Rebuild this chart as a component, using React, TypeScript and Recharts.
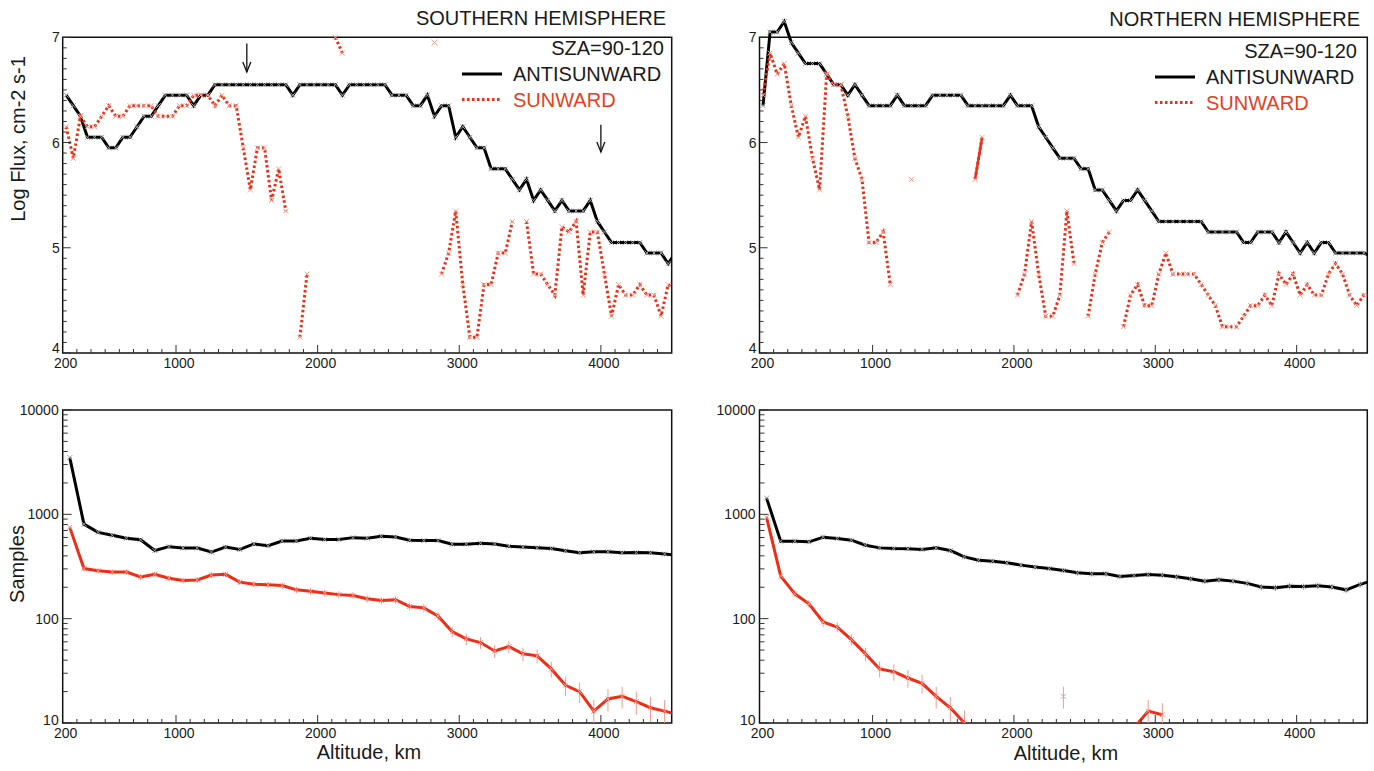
import React from "react";
import { ComposedChart, Line, XAxis, YAxis, ReferenceArea, ReferenceLine, ErrorBar } from "recharts";

// altitude bin centres, km
const FLUX_ALT = Array.from({ length: 87 }, (_, i) => 225 + 50 * i);
const COUNT_ALT = Array.from({ length: 44 }, (_, i) => 250 + 100 * i);

const ALT_MAX = 4500;
const ALT_LABELS = [200, 1000, 2000, 3000, 4000];
const FLUX_LABELS = [4, 5, 6, 7];
const COUNT_LABELS = [10, 100, 1000, 10000];

// log10 flux, cm-2 s-1 (null = empty bin)
const SH_FLUX_ANTI = [
  6.45, 6.35, 6.25, 6.05, 6.05, 6.05, 5.95, 5.95, 6.05, 6.05,
  6.15, 6.25, 6.25, 6.35, 6.45, 6.45, 6.45, 6.45, 6.35, 6.45,
  6.45, 6.55, 6.55, 6.55, 6.55, 6.55, 6.55, 6.55, 6.55, 6.55,
  6.55, 6.55, 6.45, 6.55, 6.55, 6.55, 6.55, 6.55, 6.55, 6.45,
  6.55, 6.55, 6.55, 6.55, 6.55, 6.55, 6.45, 6.45, 6.45, 6.35,
  6.35, 6.45, 6.25, 6.35, 6.35, 6.05, 6.15, 6.05, 5.95, 5.95,
  5.75, 5.75, 5.75, 5.65, 5.55, 5.65, 5.45, 5.55, 5.45, 5.35,
  5.45, 5.35, 5.35, 5.35, 5.45, 5.25, 5.15, 5.05, 5.05, 5.05,
  5.05, 5.05, 4.95, 4.95, 4.95, 4.85, 4.95,
];
const SH_FLUX_SUN = [
  6.15, 5.85, 6.25, 6.15, 6.15, 6.25, 6.35, 6.25, 6.25, 6.35,
  6.35, 6.35, 6.35, 6.25, 6.25, 6.25, 6.35, 6.35, 6.45, 6.45,
  6.45, 6.35, 6.45, 6.35, 6.35, 5.95, 5.55, 5.95, 5.95, 5.45,
  5.75, 5.35, null, 4.15, 4.75, null, null, null, 7.0, 6.85,
  null, null, null, null, null, null, null, null, null, null,
  null, null, null, 4.75, 4.95, 5.35, 4.65, 4.15, 4.15, 4.65,
  4.65, 4.95, 4.95, 5.25, null, 5.25, 4.75, 4.75, 4.65, 4.55,
  5.2, 5.15, 5.25, 4.55, 5.15, 5.15, 4.75, 4.35, 4.65, 4.55,
  4.55, 4.65, 4.55, 4.55, 4.35, 4.65, 4.6,
];
// lone sunward points drawn as markers only
const SH_SUN_LONE: [number, number][] = [[2825, 6.95]];

const NH_FLUX_ANTI = [
  6.35, 7.05, 7.05, 7.15, 6.95, 6.85, 6.75, 6.75, 6.75, 6.65,
  6.55, 6.55, 6.45, 6.55, 6.45, 6.35, 6.35, 6.35, 6.35, 6.45,
  6.35, 6.35, 6.35, 6.35, 6.45, 6.45, 6.45, 6.45, 6.45, 6.35,
  6.35, 6.35, 6.35, 6.35, 6.35, 6.45, 6.35, 6.35, 6.35, 6.15,
  6.05, 5.95, 5.85, 5.85, 5.85, 5.75, 5.75, 5.55, 5.55, 5.45,
  5.35, 5.45, 5.45, 5.55, 5.45, 5.35, 5.25, 5.25, 5.25, 5.25,
  5.25, 5.25, 5.25, 5.15, 5.15, 5.15, 5.15, 5.15, 5.05, 5.05,
  5.15, 5.15, 5.15, 5.05, 5.15, 5.05, 4.95, 5.05, 4.95, 5.05,
  5.05, 4.95, 4.95, 4.95, 4.95, 4.95, 4.92,
];
const NH_FLUX_SUN = [
  6.45, 6.85, 6.65, 6.75, 6.35, 6.05, 6.25, 5.85, 5.55, 6.65,
  6.55, 6.55, 6.25, 5.85, 5.65, 5.05, 5.05, 5.15, 4.65, null,
  null, 5.65, null, null, null, null, null, null, null, null,
  5.65, 6.05, null, null, null, null, 4.55, 4.75, 5.25, 4.75,
  4.35, 4.35, 4.55, 5.35, 4.85, null, 4.35, 4.75, 5.05, 5.15,
  null, 4.25, 4.55, 4.65, 4.45, 4.45, 4.75, 4.95, 4.75, 4.75,
  4.75, 4.75, 4.65, 4.55, 4.45, 4.25, 4.25, 4.25, 4.35, 4.45,
  4.45, 4.55, 4.45, 4.75, 4.65, 4.75, 4.55, 4.65, 4.55, 4.55,
  4.75, 4.85, 4.75, 4.55, 4.45, 4.55, 4.55,
];
// sunward bins joined by a solid segment
const NH_SUN_SOLID = [1725, 1775];

// sample counts per 100 km bin
const SH_CNT_ANTI = [
  3500, 805, 672, 630, 590, 570, 450, 490, 475, 475,
  435, 485, 460, 520, 500, 555, 555, 590, 573, 573,
  598, 590, 617, 605, 565, 560, 560, 518, 518, 528,
  520, 495, 485, 478, 470, 447, 428, 437, 437, 428,
  430, 428, 417, 405,
];
const SH_CNT_SUN = [
  750, 302, 288, 280, 280, 251, 266, 244, 232, 235,
  262, 266, 224, 214, 211, 208, 189, 183, 176, 170,
  167, 155, 149, 152, 131, 127, 106, 75, 64, 59,
  49, 54, 46, 44, 33, 23, 20, 13, 17, 18,
  16, 14, 13, 12,
];
const NH_CNT_ANTI = [
  1430, 552, 552, 545, 603, 586, 565, 506, 477, 470,
  467, 461, 477, 450, 391, 363, 355, 343, 326, 312,
  302, 290, 275, 269, 269, 254, 259, 265, 261, 252,
  241, 229, 236, 229, 218, 201, 198, 205, 203, 207,
  201, 189, 213, 235,
];
const NH_CNT_SUN = [
  936, 256, 173, 139, 93, 83, 63, 46, 33, 31,
  27, 24, 18, 14, 10, null, null, null, null, null,
  null, 18, null, null, null, null, 9, 13, 12, null,
  null, null, null, null, null, null, null, null, null, null,
  null, null, null, null,
];

// arrows marking altitudes in the southern panel
const SH_ARROWS = [
  { km: 1500, from: 6.94, to: 6.67 },
  { km: 4000, from: 6.17, to: 5.91 },
];

const ALT_TICKS = Array.from({ length: 43 }, (_, i) => 200 + 100 * i);
const FLUX_TICKS = Array.from({ length: 31 }, (_, i) => Math.round(40 + i) / 10);
const COUNT_TICKS = [10, 100, 1000]
  .flatMap((d) => [1, 2, 3, 4, 5, 6, 7, 8, 9].map((k) => k * d))
  .concat([10000]);
const COUNT_MIN = 10;

const FONT = "'Liberation Sans', Arial, Helvetica, sans-serif";
const RED = "#ee2d16";
const RED_TEXT = "#e8401e";
const RED_LIGHT = "#f39c8e";
const GREY = "#a0a0a0";
const INK = "#1a1a1a";

type Pair = [number, number];
type Val = number | null;

function fluxRows(anti: Val[], sun: Val[], lone: Pair[] = [], solid: number[] = []) {
  return FLUX_ALT.map((km, i) => {
    const inside = km <= ALT_MAX;
    return {
      km,
      anti: anti[i],
      sun: sun[i],
      antiMark: inside ? anti[i] : null,
      sunMark: inside ? sun[i] : null,
      sunSolid: solid.includes(km) ? sun[i] : null,
      sunLone: lone.find((p) => p[0] === km)?.[1] ?? null,
    };
  });
}

// poisson error bars, cut at the bottom of the frame
function countErr(v: Val, inside: boolean) {
  if (v == null || !inside || v < COUNT_MIN) return null;
  const e = Math.sqrt(v);
  return [Math.min(e, v - COUNT_MIN), e];
}

function countRows(anti: Val[], sun: Val[]) {
  return COUNT_ALT.map((km, i) => {
    const inside = km <= ALT_MAX;
    const a = anti[i];
    const s = sun[i];
    return {
      km,
      anti: a,
      sun: s,
      antiMark: inside && a != null && a >= COUNT_MIN ? a : null,
      sunMark: inside && s != null && s >= COUNT_MIN ? s : null,
      antiErr: countErr(a, inside),
      sunErr: countErr(s, inside),
    };
  });
}

function crossDot(color: string, s = 2.5) {
  return (p: any) => {
    const k = `m-${p.index}`;
    if (p.cx == null || p.cy == null || p.value == null || Number.isNaN(p.cy)) return <g key={k} />;
    const { cx, cy } = p;
    return (
      <path
        key={k}
        d={`M${cx - s} ${cy - s}L${cx + s} ${cy + s}M${cx - s} ${cy + s}L${cx + s} ${cy - s}`}
        stroke={color}
        strokeWidth={1}
        fill="none"
      />
    );
  };
}

function AltTick(props: any) {
  const { x, y, payload } = props;
  const v = payload.value;
  const len = v % 1000 === 0 ? 8 : 4;
  return (
    <g>
      {v !== 200 && <line x1={x} x2={x} y1={y} y2={y - len} stroke="#333" strokeWidth={1} />}
      {ALT_LABELS.includes(v) && (
        <text x={x + 3} y={y + 15} textAnchor="middle" fontSize={14} fill={INK} fontFamily={FONT}>
          {v}
        </text>
      )}
    </g>
  );
}

function FluxTick(props: any) {
  const { x, y, payload } = props;
  const v = payload.value;
  const major = FLUX_LABELS.includes(v);
  return (
    <g>
      <line x1={x} x2={x + (major ? 8 : 4)} y1={y} y2={y} stroke="#333" strokeWidth={1} />
      {major && (
        <text x={x - 3} y={y + 5 - (v === 4 ? 5 : 0)} textAnchor="end" fontSize={14} fill={INK} fontFamily={FONT}>
          {v}
        </text>
      )}
    </g>
  );
}

function CountTick(props: any) {
  const { x, y, payload } = props;
  const v = payload.value;
  const major = COUNT_LABELS.includes(v);
  return (
    <g>
      <line x1={x} x2={x + (major ? 9 : 5)} y1={y} y2={y} stroke="#333" strokeWidth={1} />
      {major && (
        <text x={x - 4} y={y + 5 - (v === 10 ? 3 : 0)} textAnchor="end" fontSize={14} fill={INK} fontFamily={FONT}>
          {v}
        </text>
      )}
    </g>
  );
}

function Arrow(p: any) {
  const { x1, y1, x2, y2 } = p;
  return (
    <g stroke="#111" strokeWidth={1.3} fill="none">
      <line x1={x1} y1={y1} x2={x2} y2={y2} />
      <polyline points={`${x2 - 4},${y2 - 10} ${x2},${y2} ${x2 + 4},${y2 - 10}`} />
    </g>
  );
}

type PanelProps = {
  left: number;
  top: number;
  width: number;
  yWidth: number;
  right: number;
  rows: any[];
  arrows?: { km: number; from: number; to: number }[];
};

function FluxPanel({ left, top, width, yWidth, right, rows, arrows = [] }: PanelProps) {
  return (
    <div style={{ position: "absolute", left, top }}>
      <ComposedChart width={width} height={390} data={rows} margin={{ top: 11, right, bottom: 0, left: 0 }}>
        <XAxis
          type="number"
          dataKey="km"
          domain={[200, ALT_MAX]}
          allowDataOverflow
          ticks={ALT_TICKS}
          interval={0}
          tick={<AltTick />}
          tickLine={false}
          axisLine={false}
          tickSize={0}
          tickMargin={0}
          height={37}
        />
        <YAxis
          type="number"
          domain={[4, 7.25]}
          allowDataOverflow
          ticks={FLUX_TICKS}
          interval={0}
          tick={<FluxTick />}
          tickLine={false}
          axisLine={false}
          tickSize={0}
          tickMargin={0}
          width={yWidth}
        />
        <ReferenceArea x1={200} x2={ALT_MAX} y1={4} y2={7} fill="none" stroke="#111" strokeWidth={1.5} ifOverflow="visible" />
        <Line dataKey="antiMark" stroke="none" dot={crossDot(GREY)} isAnimationActive={false} />
        <Line dataKey="sunMark" stroke="none" dot={crossDot(RED_LIGHT)} isAnimationActive={false} />
        <Line dataKey="sunLone" stroke="none" dot={crossDot(RED_LIGHT, 3)} isAnimationActive={false} />
        <Line type="linear" dataKey="anti" stroke="#000" strokeWidth={3} dot={false} isAnimationActive={false} />
        <Line
          type="linear"
          dataKey="sun"
          stroke={RED}
          strokeWidth={3}
          strokeDasharray="2.5 2.5"
          dot={false}
          isAnimationActive={false}
        />
        <Line type="linear" dataKey="sunSolid" stroke={RED} strokeWidth={2.5} dot={false} isAnimationActive={false} />
        {arrows.map((a) => (
          <ReferenceLine
            key={a.km}
            segment={[{ x: a.km, y: a.from }, { x: a.km, y: a.to }]}
            ifOverflow="visible"
            shape={(p: any) => <Arrow {...p} />}
          />
        ))}
      </ComposedChart>
    </div>
  );
}

function CountPanel({ left, top, width, yWidth, right, rows }: PanelProps) {
  return (
    <div style={{ position: "absolute", left, top }}>
      <ComposedChart width={width} height={381} data={rows} margin={{ top: 20, right, bottom: 0, left: 0 }}>
        <XAxis
          type="number"
          dataKey="km"
          domain={[200, ALT_MAX]}
          allowDataOverflow
          ticks={ALT_TICKS}
          interval={0}
          tick={<AltTick />}
          tickLine={false}
          axisLine={false}
          tickSize={0}
          tickMargin={0}
          height={48}
        />
        <YAxis
          type="number"
          scale="log"
          domain={[COUNT_MIN, 10000]}
          allowDataOverflow
          ticks={COUNT_TICKS}
          interval={0}
          tick={<CountTick />}
          tickLine={false}
          axisLine={false}
          tickSize={0}
          tickMargin={0}
          width={yWidth}
        />
        <ReferenceArea x1={200} x2={ALT_MAX} y1={COUNT_MIN} y2={10000} fill="none" stroke="#111" strokeWidth={1.5} ifOverflow="visible" />
        <Line dataKey="antiMark" stroke="none" dot={crossDot(GREY)} isAnimationActive={false}>
          <ErrorBar dataKey="antiErr" width={0} stroke={GREY} strokeWidth={1} direction="y" isAnimationActive={false} />
        </Line>
        <Line dataKey="sunMark" stroke="none" dot={crossDot(RED_LIGHT)} isAnimationActive={false}>
          <ErrorBar dataKey="sunErr" width={0} stroke={RED_LIGHT} strokeWidth={1} direction="y" isAnimationActive={false} />
        </Line>
        <Line type="linear" dataKey="anti" stroke="#000" strokeWidth={3} dot={false} isAnimationActive={false} />
        <Line type="linear" dataKey="sun" stroke={RED} strokeWidth={3} dot={false} isAnimationActive={false} />
      </ComposedChart>
    </div>
  );
}

function Legend({ right, x0, y0 }: { right: number; x0: number; y0: number }) {
  return (
    <g fontFamily={FONT} fontSize={20}>
      <text x={right} y={y0 + 7} textAnchor="end" fill={INK}>SZA=90-120</text>
      <line x1={x0} x2={x0 + 40} y1={y0 + 26} y2={y0 + 26} stroke="#000" strokeWidth={3} />
      <text x={x0 + 51} y={y0 + 33} fill={INK}>ANTISUNWARD</text>
      <line x1={x0} x2={x0 + 40} y1={y0 + 51.5} y2={y0 + 51.5} stroke={RED} strokeWidth={3} strokeDasharray="2.5 2.5" />
      <text x={x0 + 51} y={y0 + 59} fill={RED_TEXT}>SUNWARD</text>
    </g>
  );
}

export default function App() {
  const shFlux = fluxRows(SH_FLUX_ANTI, SH_FLUX_SUN, SH_SUN_LONE);
  const nhFlux = fluxRows(NH_FLUX_ANTI, NH_FLUX_SUN, [], NH_SUN_SOLID);
  const shCnt = countRows(SH_CNT_ANTI, SH_CNT_SUN);
  const nhCnt = countRows(NH_CNT_ANTI, NH_CNT_SUN);

  return (
    <div style={{ position: "absolute", left: 0, top: 0, width: 1374, height: 771, background: "#fff", fontFamily: FONT }}>
      <FluxPanel left={0} top={0} width={700} yWidth={62.7} right={28.3} rows={shFlux} arrows={SH_ARROWS} />
      <FluxPanel left={700} top={0} width={674} yWidth={59.5} right={6.7} rows={nhFlux} />
      <CountPanel left={0} top={390} width={700} yWidth={62.7} right={28.3} rows={shCnt} />
      <CountPanel left={700} top={390} width={674} yWidth={59.5} right={6.7} rows={nhCnt} />

      <svg width={1374} height={771} style={{ position: "absolute", left: 0, top: 0, pointerEvents: "none" }}>
        <g fontFamily={FONT} fill={INK}>
          <text x={666} y={25} textAnchor="end" fontSize={20}>SOUTHERN HEMISPHERE</text>
          <text x={1360} y={25.5} textAnchor="end" fontSize={20}>NORTHERN HEMISPHERE</text>
          <text transform="translate(25,139) rotate(-90)" textAnchor="middle" fontSize={20}>Log Flux, cm-2 s-1</text>
          <text transform="translate(23.5,564) rotate(-90)" textAnchor="middle" fontSize={20}>Samples</text>
          <text x={369} y={759} textAnchor="middle" fontSize={20}>Altitude, km</text>
          <text x={1066} y={760} textAnchor="middle" fontSize={20}>Altitude, km</text>
        </g>
        <Legend right={664} x0={462} y0={48} />
        <Legend right={1357} x0={1155} y0={51} />
      </svg>
    </div>
  );
}
